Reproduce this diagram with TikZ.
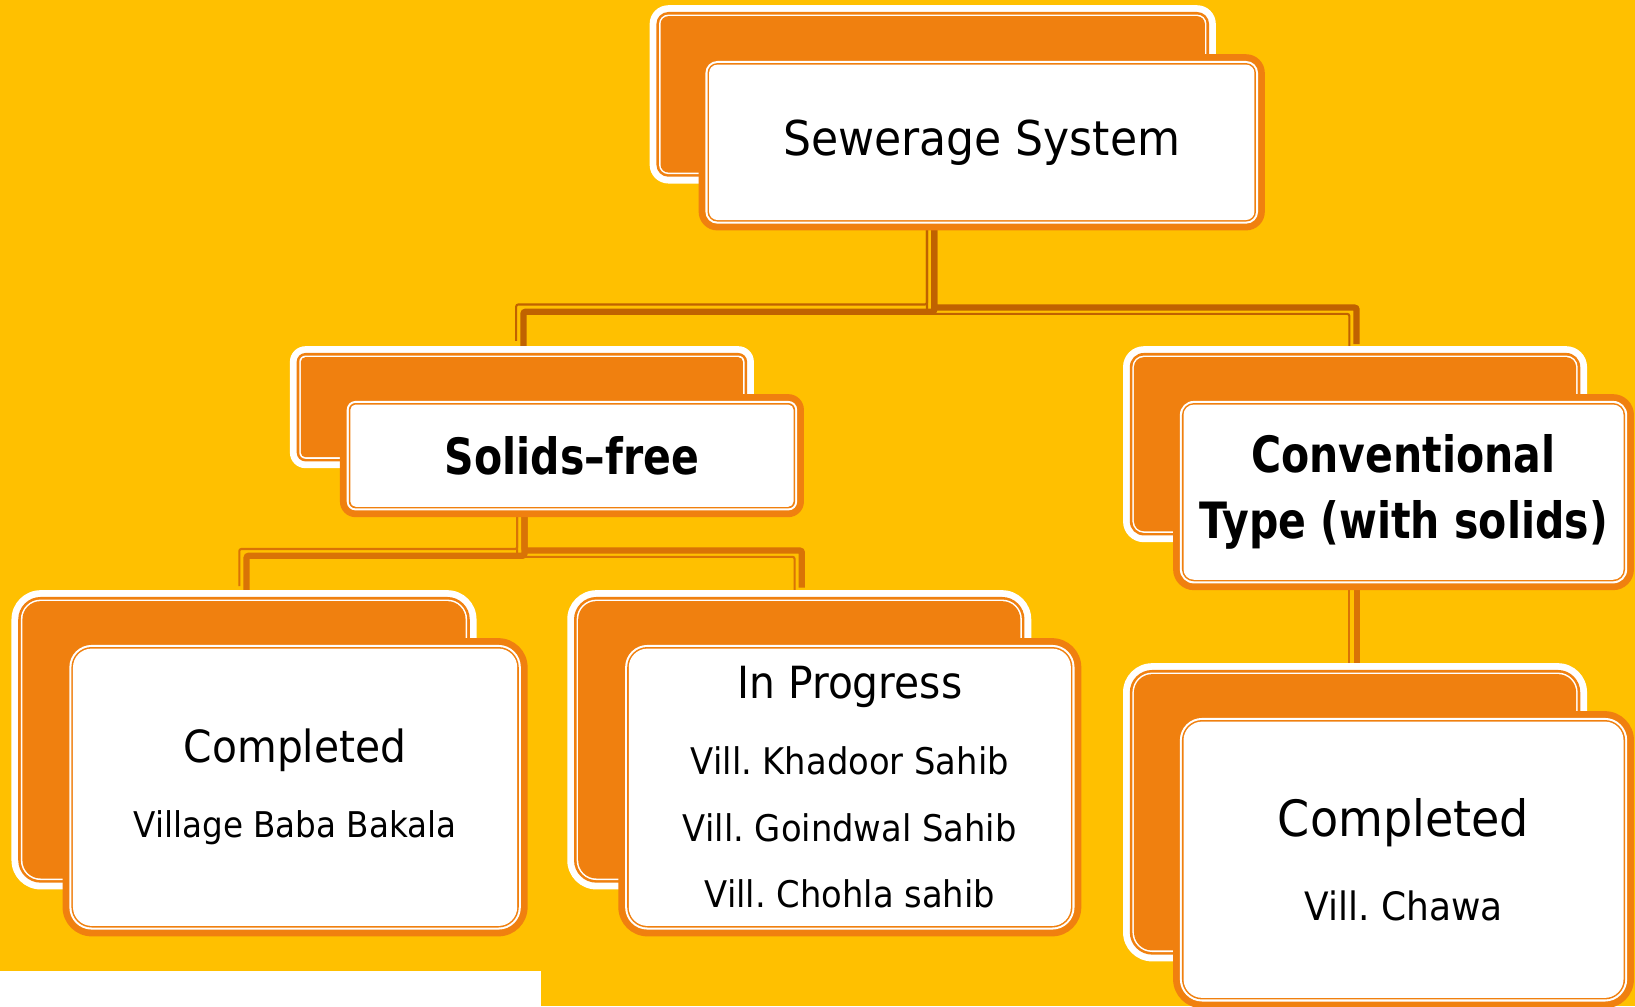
\documentclass[tikz,border=0pt]{standalone}
\usepackage{fontspec}
\setmainfont{DejaVu Sans}[FakeStretch=0.92]
\newfontfamily\boldf{DejaVu Sans}[FakeStretch=0.82]
\usetikzlibrary{calc}
\pgfdeclarelayer{back}
\pgfdeclarelayer{conn}
\pgfsetlayers{back,conn,main}
\definecolor{bgY}{HTML}{FFC000}
\definecolor{orC}{HTML}{F0800F}
\definecolor{conA}{HTML}{C06200}
\definecolor{conB}{HTML}{D97306}
\newcommand\insetfill[3]{\fill[#3, rounded corners=#2] ([shift={(#1,#1)}]path picture bounding box.north west) rectangle ([shift={(-#1,-#1)}]path picture bounding box.south east);}
\tikzset{
  backbox/.style={inner sep=0pt, outer sep=0pt, rounded corners=#1pt, fill=white,
    path picture={\pgfmathsetmacro\bxrA{#1-6.5}\pgfmathsetmacro\bxrB{#1-9}\pgfmathsetmacro\bxrC{#1-10.5}%
      \insetfill{6.5}{\bxrA pt}{orC}\insetfill{9}{\bxrB pt}{white}\insetfill{10.5}{\bxrC pt}{orC}}},
  frontbox/.style={inner sep=0pt, outer sep=0pt, rounded corners=#1pt, fill=orC, text=black,
    path picture={\pgfmathsetmacro\bxrA{#1-6.5}\pgfmathsetmacro\bxrB{#1-8.5}\pgfmathsetmacro\bxrC{#1-10}%
      \insetfill{6.5}{\bxrA pt}{white}\insetfill{8.5}{\bxrB pt}{orC}\insetfill{10}{\bxrC pt}{white}}},
  sz/.style n args={2}{minimum width=#1pt, minimum height=#2pt},
  conthick/.style={line width=6pt, rounded corners=2pt},
  conthin/.style={line width=2pt, rounded corners=2pt},
}
\begin{document}
\frenchspacing
\begin{tikzpicture}[x=1pt,y=-1pt]
\begin{pgfonlayer}{back}
\fill[bgY] (0,0) rectangle (1568,965);
\fill[white] (0,931) rectangle (519,965);
\end{pgfonlayer}
\useasboundingbox (0,0) rectangle (1568,965);

% top
\node[backbox=18, sz={543}{171}] (sewerback) at (894.5,90.5) {};
\node[frontbox=18, sz={543}{169}, font=\fontsize{46}{55}\selectfont] (sewer) at (941.5,136.5) {Sewerage System};
% solids-free
\node[backbox=15, sz={445}{117}] (solidsback) at (500.5,390.5) {};
\node[frontbox=15, sz={445}{118}, font=\boldf\bfseries\fontsize{48}{58}\selectfont] (solids) at (548.5,437) {Solids–free};
% conventional
\node[backbox=20, sz={445}{188}] (convback) at (1299.5,426) {};
\node[frontbox=20, sz={442}{188}, align=center, font=\boldf\bfseries\fontsize{48}{63}\selectfont] (conv) at (1346,472) {Conventional\\Type (with solids)};
% completed left
\node[backbox=28, sz={446}{287}] (complback) at (234,709.5) {};
\node[frontbox=28, sz={446}{286}, align=center, font=\fontsize{34}{64}\selectfont] (compl) at (283,755) {{\fontsize{42.5}{64}\selectfont Completed}\\[8pt]Village Baba Bakala};
% in progress
\node[backbox=28, sz={445}{287}] (progback) at (766.5,709.5) {};
\node[frontbox=28, sz={444}{286}, align=center, font=\fontsize{35.2}{64}\selectfont] (prog) at (815,755) {{\fontsize{42.5}{64}\selectfont In Progress}\\[9pt]Vill. Khadoor Sahib\\Vill. Goindwal Sahib\\Vill. Chohla sahib};
% completed right
\node[backbox=28, sz={445}{286}] (comprback) at (1299.5,779) {};
\node[frontbox=28, sz={442}{285}, align=center, font=\fontsize{37.5}{70}\selectfont] (compr) at (1346,824.5) {{\fontsize{48}{70}\selectfont Completed}\\[11pt]Vill. Chawa};

\coordinate (barA) at (0,297);
\coordinate (barB) at (0,530.5);

\begin{pgfonlayer}{conn}
\begin{scope}[transform canvas={shift={(1.5,2)}}]
  \draw[conthick, draw=conA] (sewerback.center) -- (sewerback.center |- barA) -| (solidsback.north);
\end{scope}
\begin{scope}[transform canvas={shift={(-5.5,-5)}}]
  \draw[conthin, draw=conA] (sewerback.center) -- (sewerback.center |- barA) -| (solidsback.north);
\end{scope}
\begin{scope}[transform canvas={shift={(1.5,-2)}}]
  \draw[conthick, draw=conA] (sewerback.center) -- (sewerback.center |- barA) -| (convback.north);
\end{scope}
\begin{scope}[transform canvas={shift={(-5.5,4)}}]
  \draw[conthin, draw=conA] (sewerback.center) -- (sewerback.center |- barA) -| (convback.north);
\end{scope}
% solids-free children
\begin{scope}[transform canvas={shift={(2.5,2.5)}}]
  \draw[conthick, draw=conB] (solidsback.center) -- (solidsback.center |- barB) -| (complback.north);
\end{scope}
\begin{scope}[transform canvas={shift={(-4.5,-4)}}]
  \draw[conthin, draw=conB] (solidsback.center) -- (solidsback.center |- barB) -| (complback.north);
\end{scope}
\begin{scope}[transform canvas={shift={(2.5,-2.5)}}]
  \draw[conthick, draw=conB] (solidsback.center) -- (solidsback.center |- barB) -| (progback.north);
\end{scope}
\begin{scope}[transform canvas={shift={(-4.5,3.5)}}]
  \draw[conthin, draw=conB] (solidsback.center) -- (solidsback.center |- barB) -| (progback.north);
\end{scope}
% conventional child
\begin{scope}[transform canvas={shift={(2,0)}}]
  \draw[conthick, draw=conB] (convback.center) -- (comprback.north);
\end{scope}
\begin{scope}[transform canvas={shift={(-5.5,0)}}]
  \draw[conthin, draw=conB] (convback.center) -- (comprback.north);
\end{scope}
\end{pgfonlayer}
\end{tikzpicture}
\end{document}
